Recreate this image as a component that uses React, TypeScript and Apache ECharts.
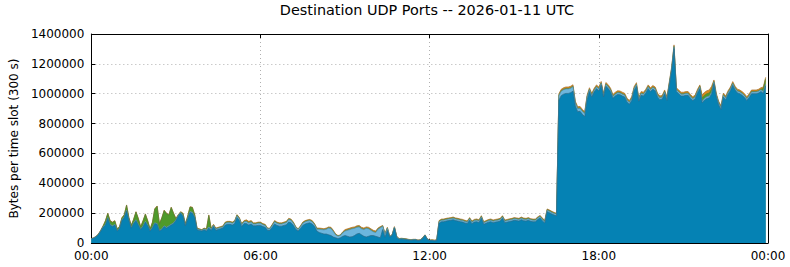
import React, { useEffect, useRef } from "react";
import * as echarts from "echarts";

// Values in kilobytes (x1000 bytes) per 5-minute slot, 00:00 .. 23:55
const SLOT_MINUTES = 5;
const KB = 1000;

const blue = [
  27,32,41,55,78,105,120,165,120,110,120,80,95,150,170,215,150,100,130,150,120,90,110,140,115,80,100,130,125,80,90,110,100,110,120,130,150,180,200,180,115,160,205,200,170,88,84,80,88,
  80,100,85,110,85,90,95,100,120,125,125,120,130,170,150,110,130,130,120,127,115,115,118,118,110,105,85,85,105,128,118,113,113,118,122,140,135,118,92,80,97,118,127,132,135,127,110,80,
  70,65,60,60,55,50,40,35,30,35,45,50,45,40,42,50,60,65,55,45,40,45,50,50,45,40,35,90,40,85,40,50,100,35,25,27,25,23,20,18,20,21,16,18,30,50,24,16,
  16,14,16,132,142,143,147,150,152,156,150,147,143,140,134,130,152,129,140,143,137,165,125,132,139,143,136,140,143,147,165,136,140,144,147,152,150,147,156,149,147,152,145,142,143,157,167,148,134,210,203,194,187,182,
  957,987,997,1002,1002,1007,1017,917,880,882,862,847,957,1015,978,1011,1034,1020,1057,978,1050,1035,1011,970,985,995,993,985,978,945,930,955,1022,1049,950,989,985,1005,1034,1015,1030,1020,978,960,965,1000,955,1055,1155,1302,1015,1000,985,985,989,989,970,955,966,1005,1034,939,958,968,973,998,1067,978,925,895,978,960,995,1020,1056,1025,1005,1000,989,975,955,975,1000,1000,1000,1005,1015,1003,1053,
];

const lightBlue = [
  1,1,2,2,3,4,5,6,5,5,5,4,4,5,5,6,5,4,5,6,5,4,5,5,5,4,5,5,5,4,5,5,5,5,5,5,5,5,5,5,5,5,6,6,5,5,5,5,6,
  8,8,8,8,8,8,8,8,12,12,12,12,12,12,12,12,12,14,14,14,12,12,14,14,12,12,10,10,12,14,14,14,14,14,15,17,17,14,12,10,12,14,15,15,15,15,12,12,
  22,25,28,32,45,47,37,19,16,16,24,30,40,50,53,48,45,43,40,45,58,50,35,25,25,52,67,22,19,14,3,3,6,6,2,2,2,2,2,2,2,2,2,2,2,2,2,2,
  2,2,2,10,10,10,10,10,10,10,10,10,10,10,10,10,10,10,10,10,10,10,10,10,10,10,10,10,10,10,10,10,10,10,10,10,10,10,10,10,10,10,10,10,10,10,10,10,10,10,10,10,10,10,
  30,30,30,30,30,30,30,20,20,20,20,20,20,12,12,12,12,12,12,12,12,12,12,12,12,12,12,12,12,12,12,12,12,12,12,12,12,12,12,12,12,12,12,12,12,12,12,12,12,12,12,12,12,12,12,12,12,12,12,12,12,12,12,12,12,12,12,12,12,12,12,12,12,12,12,12,12,12,12,12,12,12,12,12,12,12,12,12,12,
];

const green = [
  1,1,1,2,3,4,22,26,22,22,22,9,9,12,12,31,12,13,22,51,37,13,32,47,27,8,32,92,115,43,72,102,92,72,112,62,7,2,2,12,7,12,29,31,12,4,3,2,3,
  3,76,3,3,3,3,3,3,4,4,4,4,4,4,4,4,3,3,3,3,3,3,3,3,3,3,2,2,3,3,3,3,3,3,3,3,3,3,2,2,2,3,3,3,3,3,3,3,
  2,2,2,2,2,2,2,2,1,1,1,2,2,2,2,2,2,2,2,2,2,2,2,2,2,2,2,2,2,2,1,1,1,1,1,1,1,1,1,0,1,0,0,0,1,1,0,0,
  1,1,1,3,3,3,3,3,3,3,3,3,3,3,3,3,3,3,3,3,3,3,3,3,3,3,3,3,3,3,3,3,3,3,3,3,3,3,3,3,3,3,3,3,3,3,3,3,3,3,3,3,3,3,
  3,3,3,3,3,3,3,3,3,3,3,3,3,3,3,3,3,3,3,3,3,3,3,3,3,3,3,3,3,3,3,3,3,3,3,3,3,3,3,3,3,3,3,3,3,3,3,3,3,3,3,3,3,3,3,3,3,3,3,3,3,20,20,20,20,20,3,3,3,3,3,3,3,3,3,3,3,3,3,3,3,3,3,3,3,3,3,20,35,
];

const orange = [
  1,1,1,1,1,2,3,3,3,3,3,3,3,3,3,3,3,3,3,3,3,3,3,3,3,3,3,3,3,3,3,3,3,3,3,3,3,3,3,3,3,3,3,3,3,3,3,3,3,
  4,4,4,4,4,4,4,4,4,4,4,4,4,4,4,4,5,8,8,6,5,5,5,5,5,5,3,3,5,5,5,5,5,5,5,5,5,5,4,3,4,5,5,5,5,5,5,5,
  6,6,6,6,6,6,6,4,3,3,5,8,8,8,8,8,8,8,8,8,8,8,8,8,8,6,6,4,4,4,1,1,3,3,2,2,2,2,2,2,2,2,2,2,2,2,2,2,
  3,3,3,5,5,5,5,5,5,5,5,5,5,5,5,5,5,5,5,5,5,5,5,5,5,5,5,5,5,5,5,5,5,5,5,5,5,5,5,5,5,5,5,5,5,5,5,5,5,5,5,5,5,5,
  10,10,10,10,10,10,10,10,10,10,10,10,10,10,10,10,10,10,10,10,10,10,10,10,10,10,10,10,10,10,10,10,10,10,10,10,10,10,10,10,10,10,10,10,10,10,10,10,10,10,10,10,10,10,10,10,10,10,10,10,10,20,20,20,20,20,10,10,10,10,10,10,10,10,10,10,10,10,10,10,10,10,10,10,10,10,10,10,10,
];

const xTickMinutes = [0, 360, 720, 1080, 1440];
const yTicks = [0, 200000, 400000, 600000, 800000, 1000000, 1200000, 1400000];

const TITLE = "Destination UDP Ports -- 2026-01-11 UTC";
const Y_NAME = "Bytes per time slot (300 s)";

const FONT = "DejaVu Sans";

function fmtTime(v: number) {
  const h = Math.floor(v / 60) % 24;
  const m = Math.round(v % 60);
  return String(h).padStart(2, "0") + ":" + String(m).padStart(2, "0");
}

export default function App() {
  const ref = useRef<HTMLDivElement>(null);
  useEffect(() => {
    if (!ref.current) return;
    const chart = echarts.init(ref.current, undefined, { renderer: "svg" });
    // stack the layers bottom-to-top (blue, light blue, green, orange)
    const layers = [
      { name: "blue", data: blue, fill: "#0582b4", edge: "#2e6c88" },
      { name: "lightBlue", data: lightBlue, fill: "#6db6dd", edge: "#5c8ea6" },
      { name: "green", data: green, fill: "#4f9a2a", edge: "#55803a" },
      { name: "orange", data: orange, fill: "#d88a1c", edge: "#a8702a" },
    ];
    const n = blue.length;
    const running = new Array(n).fill(0);
    const stacked = layers.map((l) => {
      for (let i = 0; i < n; i++) running[i] += l.data[i] || 0;
      return { ...l, cum: running.map((v, i) => [i * SLOT_MINUTES, v * KB]) };
    });
    // draw topmost cumulative first so lower layers paint over it
    const drawOrder = stacked.slice().reverse();

    const xMin = xTickMinutes[0];
    const xMax = xTickMinutes[xTickMinutes.length - 1];
    const xInt = xTickMinutes[1] - xTickMinutes[0];
    const yMin = yTicks[0];
    const yMax = yTicks[yTicks.length - 1];
    const yInt = yTicks[1] - yTicks[0];
    const tickStyle = { inside: true, length: 4, lineStyle: { color: "#000", width: 1 } };
    const lineStyle = { show: true, onZero: false, lineStyle: { color: "#000", width: 1 } };
    const labelStyle = { color: "#000", fontFamily: FONT, fontSize: 12, lineHeight: 12 };
    chart.setOption({
      animation: false,
      title: {
        text: TITLE,
        left: 427,
        textAlign: "center",
        top: 3,
        padding: 0,
        textStyle: { fontFamily: FONT, fontSize: 14.4, fontWeight: "normal", color: "#000" },
      },
      grid: { left: 87, right: 22, top: 34, bottom: 24, containLabel: false },
      xAxis: [
        {
          type: "value",
          min: xMin,
          max: xMax,
          interval: xInt,
          axisLine: lineStyle,
          axisTick: tickStyle,
          axisLabel: { ...labelStyle, margin: 7, formatter: (v: number) => fmtTime(v) },
          splitLine: { show: true, lineStyle: { color: "#b0b0b0", type: [1, 3], width: 1 } },
        },
        {
          type: "value",
          position: "top",
          min: xMin,
          max: xMax,
          interval: xInt,
          axisLine: lineStyle,
          axisTick: tickStyle,
          axisLabel: { show: false },
          splitLine: { show: false },
        },
      ],
      yAxis: [
        {
          type: "value",
          min: yMin,
          max: yMax,
          interval: yInt,
          axisLine: lineStyle,
          axisTick: tickStyle,
          axisLabel: { ...labelStyle, margin: 7, formatter: (v: number) => String(v) },
          splitLine: { show: true, lineStyle: { color: "#b0b0b0", type: [1, 3], width: 1 } },
          name: Y_NAME,
          nameLocation: "middle",
          nameRotate: 90,
          nameGap: 70,
          nameTextStyle: { color: "#000", fontFamily: FONT, fontSize: 12 },
        },
        {
          type: "value",
          position: "right",
          min: yMin,
          max: yMax,
          interval: yInt,
          axisLine: lineStyle,
          axisTick: tickStyle,
          axisLabel: { show: false },
          splitLine: { show: false },
        },
      ],
      series: drawOrder.map((l, k) => ({
        name: l.name,
        type: "line",
        xAxisIndex: 0,
        yAxisIndex: 0,
        z: 2 + k,
        showSymbol: false,
        symbol: "none",
        smooth: false,
        data: l.cum,
        lineStyle: { color: l.edge, width: 0.7 },
        areaStyle: { color: l.fill, opacity: 1, origin: "start" },
        itemStyle: { color: l.fill },
      })),
    });
    return () => chart.dispose();
  }, []);
  return (
    <div
      ref={ref}
      style={{ position: "fixed", left: 0, top: 0, width: 790, height: 267, background: "#fff" }}
    />
  );
}
